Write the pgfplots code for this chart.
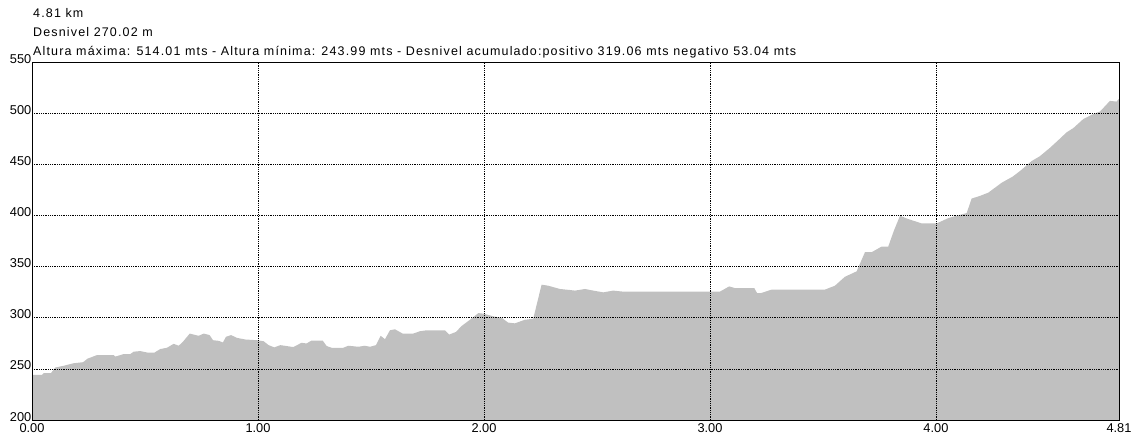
\documentclass[border=0pt]{standalone}
\usepackage{fontspec}
\setmainfont{Liberation Sans}
\newfontfamily\titlefont[LetterSpace=9.2]{Liberation Sans}
\usepackage{pgfplots}
\pgfplotsset{compat=1.18}
\definecolor{fillgray}{HTML}{C0C0C0}
\begin{document}
\fontsize{12.5}{14}\selectfont
\begin{tikzpicture}[x=1pt,y=1pt]
\useasboundingbox (0,0) rectangle (1137,437);
\begin{axis}[
  at={(32pt,17pt)}, anchor=south west,
  width=1087pt, height=358pt, scale only axis,
  xmin=0, xmax=4.81, ymin=200, ymax=550,
  xtick={0,1,2,3,4,4.81},
  xticklabels={0.00,1.00,2.00,3.00,4.00,4.81},
  ytick={200,250,300,350,400,450,500,550},
  major tick length=0pt,
  grid=major,
  grid style={black, line width=0.6pt, dash pattern=on 0.8pt off 1pt},
  axis line style={black, line width=0.9pt},
  axis on top=true,
  tick label style={font=\fontsize{12.8}{14}\selectfont},
  xticklabel style={anchor=north, inner sep=0pt, yshift=-3.5pt},
  yticklabel style={anchor=base east, inner sep=0pt, xshift=-0.5pt, yshift=-1pt},
  /pgf/number format/assume math mode=true,
  clip=true,
]
\addplot[fill=fillgray, draw=none] coordinates {
(0.000,244.0) (0.044,244.0) (0.052,245.8) (0.084,245.8) (0.103,251.3) (0.140,253.0)
(0.184,255.5) (0.226,256.5) (0.246,260.0) (0.288,263.5) (0.361,263.5) (0.369,262.0)
(0.406,264.5) (0.435,264.5) (0.450,266.8) (0.479,267.4) (0.509,266.0) (0.541,265.8)
(0.568,269.4) (0.597,270.6) (0.627,274.5) (0.649,272.6) (0.668,276.5) (0.698,284.5)
(0.737,282.3) (0.760,284.5) (0.786,283.0) (0.801,278.0) (0.826,277.4) (0.845,275.8)
(0.858,281.3) (0.881,283.0) (0.907,280.3) (0.944,278.7) (0.996,278.0) (1.025,277.0)
(1.047,273.2) (1.072,271.0) (1.099,273.2) (1.127,272.3) (1.156,271.3) (1.193,275.5)
(1.215,274.8) (1.237,277.7) (1.286,277.7) (1.304,272.3) (1.326,270.6) (1.377,270.6)
(1.400,272.6) (1.444,271.6) (1.473,272.6) (1.496,271.6) (1.522,273.2) (1.543,282.3)
(1.562,279.0) (1.584,287.7) (1.606,288.7) (1.640,284.5) (1.687,284.5) (1.717,286.8)
(1.746,287.7) (1.827,287.7) (1.846,283.5) (1.876,286.1) (1.901,291.9) (1.938,298.0)
(1.975,304.5) (2.000,303.9) (2.041,301.3) (2.078,300.0) (2.107,295.2) (2.137,294.5)
(2.181,298.0) (2.218,299.0) (2.255,332.3) (2.284,331.3) (2.336,328.1) (2.380,327.1)
(2.403,326.5) (2.447,328.1) (2.484,326.5) (2.528,324.8) (2.572,326.5) (2.616,325.5)
(3.044,325.5) (3.085,330.6) (3.110,329.0) (3.196,329.0) (3.209,323.9) (3.228,324.2)
(3.272,327.4) (3.508,327.4) (3.553,331.3) (3.597,340.0) (3.649,345.3) (3.686,364.1)
(3.716,364.1) (3.760,369.6) (3.789,369.6) (3.814,385.1) (3.841,399.7) (3.878,396.4)
(3.937,392.2) (4.003,392.2) (4.055,397.4) (4.092,399.7) (4.136,402.3) (4.158,416.5)
(4.195,419.1) (4.232,422.3) (4.291,432.0) (4.339,437.9) (4.372,443.4) (4.423,453.1)
(4.460,457.9) (4.504,466.0) (4.541,473.5) (4.578,481.2) (4.608,485.4) (4.652,494.2)
(4.689,498.4) (4.726,501.6) (4.770,512.0) (4.799,511.3) (4.810,514.0)
} \closedcycle;
\end{axis}
\titlefont
\node[anchor=base west, inner sep=0pt] at (33,419) {4.81 km};
\node[anchor=base west, inner sep=0pt] at (33,400) {Desnivel 270.02 m};
\node[anchor=base west, inner sep=0pt] at (33,381) {Altura máxima: 514.01 mts - Altura mínima: 243.99 mts - Desnivel acumulado:positivo 319.06 mts negativo 53.04 mts};
\end{tikzpicture}
\end{document}
